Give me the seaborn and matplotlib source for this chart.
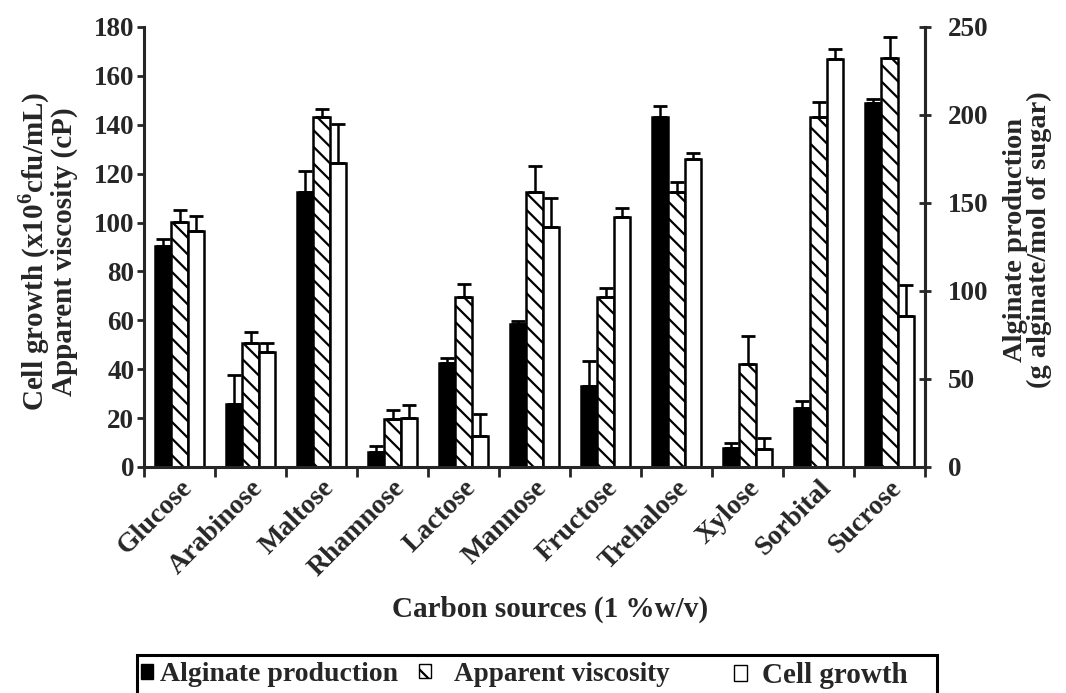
import numpy as np
import pandas as pd
import matplotlib
matplotlib.use("Agg")
import matplotlib.pyplot as plt
from matplotlib.patches import Patch, Rectangle
import seaborn as sns

categories = ["Glucose", "Arabinose", "Maltose", "Rhamnose", "Lactose", "Mannose",
              "Fructose", "Trehalose", "Xylose", "Sorbital", "Sucrose"]
# Alginate production (g alginate / mol of sugar) - right axis
alginate = [125.7, 35.6, 156.4, 8.3, 58.9, 81.3, 46.3, 199.0, 10.6, 33.3, 206.7]
alginate_err = [3.9, 16.7, 11.8, 3.8, 2.8, 1.7, 14.2, 6.1, 2.9, 4.3, 2.2]
# Apparent viscosity (cP) - left axis
viscosity = [100.4, 50.6, 143.3, 19.5, 69.4, 112.4, 69.4, 112.4, 42.1, 143.3, 167.5]
viscosity_err = [4.8, 4.8, 3.0, 3.8, 5.3, 10.8, 4.0, 4.1, 11.5, 5.9, 8.3]
# Cell growth (x10^6 cfu/mL) - left axis
growth = [96.7, 46.9, 124.5, 20.2, 12.7, 98.1, 102.4, 126.0, 7.2, 166.8, 61.8]
growth_err = [6.0, 4.0, 15.7, 5.2, 8.9, 11.8, 3.4, 2.3, 4.8, 4.1, 12.7]

series = ["Alginate production", "Apparent viscosity", "Cell growth"]
LEFT_MAX, RIGHT_MAX = 180, 250
scale = LEFT_MAX / RIGHT_MAX  # map right-axis units onto left-axis units

rows = []
for i, c in enumerate(categories):
    rows.append((c, series[0], alginate[i] * scale, alginate_err[i] * scale))
    rows.append((c, series[1], viscosity[i], viscosity_err[i]))
    rows.append((c, series[2], growth[i], growth_err[i]))
df = pd.DataFrame(rows, columns=["cat", "series", "value", "err"])

sns.set_style("ticks")
plt.rcParams["font.family"] = ["Liberation Serif", "DejaVu Serif"]
plt.rcParams["font.weight"] = "bold"
plt.rcParams["mathtext.fontset"] = "custom"
plt.rcParams["mathtext.rm"] = "Liberation Serif:bold"
plt.rcParams["mathtext.bf"] = "Liberation Serif:bold"
plt.rcParams["hatch.linewidth"] = 1.6

HATCH = "\\\\"

fig = plt.figure(figsize=(10.66, 6.93), dpi=100)
ax = fig.add_axes([144 / 1066, 1 - 467 / 693, 781 / 1066, 440 / 693])

palette = {series[0]: "black", series[1]: "white", series[2]: "white"}
sns.barplot(data=df, x="cat", y="value", hue="series", order=categories,
            hue_order=series, palette=palette, width=0.68, errorbar=None,
            edgecolor="black", linewidth=1.8, ax=ax, legend=False, saturation=1)

bar_containers = list(ax.containers)[:3]
for k, cont in enumerate(bar_containers):
    sub = df[df["series"] == series[k]].set_index("cat").loc[categories]
    xs, ys = [], []
    for p in cont.patches:
        if k == 1:
            p.set_hatch(HATCH)
        xs.append(p.get_x() + p.get_width() / 2)
        ys.append(p.get_height())
    errs = sub["err"].values
    ax.errorbar(xs, ys, yerr=[np.zeros_like(errs), errs], fmt="none",
                ecolor="black", elinewidth=1.8, capsize=5, capthick=2.0, zorder=1)

ax.set_xlim(-0.5, len(categories) - 0.5)
ax.set_ylim(0, LEFT_MAX)
ax.set_yticks(np.arange(0, 181, 20))
ax.set_xticks(range(len(categories)))
ax.set_xticklabels(categories, rotation=45, ha="right", rotation_mode="anchor",
                   fontsize=20, fontweight="bold")
ax.set_xticks(np.arange(-0.5, len(categories), 1), minor=True)
ax.tick_params(axis="x", which="major", length=0, pad=6)
ax.tick_params(axis="x", which="minor", length=7, width=2, direction="out")
ax.tick_params(axis="y", length=5, width=2, direction="out", labelsize=19.5, pad=2)
for lab in ax.get_yticklabels():
    lab.set_fontweight("bold")

for s in ["left", "bottom", "right"]:
    ax.spines[s].set_linewidth(2.2)
ax.spines["top"].set_visible(False)

ax.set_xlabel("Carbon sources (1 %w/v)", fontsize=21, fontweight="bold")
ax.xaxis.set_label_coords(0.52, -0.293)
ax.set_ylabel("Cell growth (x10$^{6}$cfu/mL)\nApparent viscosity (cP)",
              fontsize=21, fontweight="bold", linespacing=0.95)
ax.yaxis.set_label_coords(-0.0845, 0.49)

ax2 = ax.twinx()
ax2.set_ylim(0, RIGHT_MAX)
ax2.set_yticks(np.arange(0, 251, 50))
ax2.tick_params(axis="y", length=9, width=2, direction="inout", labelsize=19.5, pad=12)
for lab in ax2.get_yticklabels():
    lab.set_fontweight("bold")
for s in ["top", "left", "bottom"]:
    ax2.spines[s].set_visible(False)
ax2.spines["right"].set_linewidth(2.2)
ax2.set_ylabel("Alginate production\n(g alginate/mol of sugar)", fontsize=20.5,
               fontweight="bold", linespacing=0.95)
ax2.yaxis.set_label_coords(1.100, 0.516)

handles = [Patch(facecolor="black", edgecolor="black"),
           Patch(facecolor="white", edgecolor="black", hatch=HATCH),
           Patch(facecolor="white", edgecolor="black")]
legend_x = [134, 412, 727]
legend_size = [20, 19.5, 21]
legend_pad = [0.25, 0.85, 0.5]
for h, lab, x0, fs, tp in zip(handles, series, legend_x, legend_size, legend_pad):
    fig.legend([h], [lab], loc="upper left",
               bbox_to_anchor=(x0 / 1066, 1 - 655 / 693),
               frameon=False, handlelength=0.45, handleheight=0.45,
               handletextpad=tp, borderpad=0.25, borderaxespad=0,
               prop={"family": "Liberation Serif", "weight": "bold", "size": fs})
fig.add_artist(Rectangle((137 / 1066, -0.05), 800 / 1066, 0.05 + 1 - 655 / 693,
                         transform=fig.transFigure, fill=False,
                         edgecolor="black", linewidth=2.2))

fig.savefig("out.png", dpi=100)
